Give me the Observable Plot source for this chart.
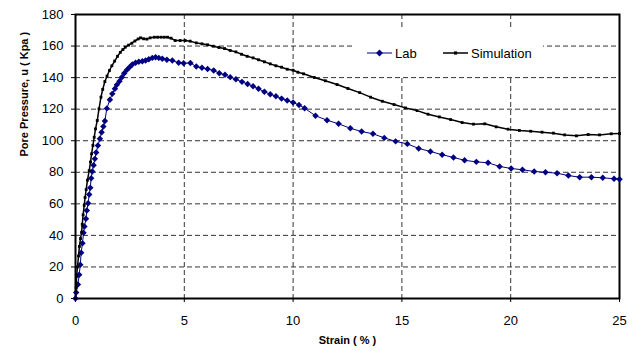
<!DOCTYPE html>
<html>
<head>
<meta charset="utf-8">
<script src="https://cdn.jsdelivr.net/npm/d3@7"></script>
<script src="https://cdn.jsdelivr.net/npm/@observablehq/plot@0.6"></script>
<style>
  html, body { margin: 0; padding: 0; background: white; }
  #wrap { position: relative; width: 638px; height: 351px; font-family: "Liberation Sans", Arial, sans-serif; }
  #legend { position: absolute; left: 353px; top: 27px; width: 190px; height: 48px; background: white; }
</style>
</head>
<body>
<div id="wrap"><div id="legend"></div></div>
<script>
const xTicks = [0, 5, 10, 15, 20, 25];
const yTicks = [0, 20, 40, 60, 80, 100, 120, 140, 160, 180];
const xTitle = "Strain ( % )";
const yTitle = "Pore Pressure, u ( Kpa )";
const seriesNames = ["Lab", "Simulation"];

// Lab: [strain %, pore pressure kPa]
const labData = [
  [0,0],[0.03,3.8],[0.11,8.9],[0.17,15],[0.22,21.4],[0.26,29],[0.32,35],[0.37,41.6],[0.41,45.6],
  [0.48,50.5],[0.52,55.8],[0.58,60.4],[0.63,65.9],[0.68,70.2],[0.72,76.2],[0.77,80.5],[0.83,84.5],
  [0.89,88.5],[0.95,92.5],[1.03,97],[1.12,101.2],[1.20,105.4],[1.28,109],[1.35,112.5],[1.44,120.5],
  [1.58,126],[1.69,129.7],[1.81,132.9],[1.90,135.4],[2.02,137.7],[2.13,140.2],[2.24,142.8],
  [2.36,144.9],[2.48,146.6],[2.61,148.3],[2.76,149.4],[2.91,150.0],[3.07,150.4],[3.22,150.8],[3.37,151.6],
  [3.53,152.5],[3.68,152.9],[3.83,152.5],[3.99,151.9],[4.20,151.3],[4.45,150.8],[4.74,149.4],[4.97,149.1],
  [5.28,149.3],[5.55,147.0],[5.81,146.2],[6.07,145.5],[6.35,144.5],[6.61,142.8],[6.87,141.8],[7.11,140.3],
  [7.37,139.0],[7.65,137.3],[7.91,136.0],[8.16,134.5],[8.41,132.9],[8.68,131.0],[8.95,129.5],[9.21,128.2],
  [9.47,126.7],[9.73,125.5],[10.0,124.2],[10.27,122.7],[10.53,120.6],[11.03,115.8],[11.56,113.0],[12.09,110.7],
  [12.63,107.9],[13.15,105.8],[13.67,104.4],[14.19,101.8],[14.71,99.6],[15.25,98.0],[15.77,95.1],[16.31,93.2],
  [16.85,91.1],[17.37,89.4],[17.88,87.6],[18.42,86.6],[18.96,86.0],[19.49,83.7],[20.02,82.4],[20.54,81.6],
  [21.08,80.5],[21.60,80.0],[22.13,79.4],[22.65,77.9],[23.17,76.9],[23.71,76.9],[24.23,76.5],[24.75,75.9],[25,75.6]
];

// Simulation: [strain %, pore pressure kPa]
const simData = [
  [0,0],[0.03,7],[0.05,14],[0.09,20],[0.14,27],[0.18,33],[0.23,38],[0.28,42],[0.31,47],[0.35,53],
  [0.40,59],[0.44,64],[0.49,69],[0.55,75],[0.63,81],[0.69,86.5],[0.74,91.7],[0.80,97],[0.86,102.2],
  [0.92,107.5],[1.0,112.8],[1.08,120.2],[1.17,127.6],[1.25,132.5],[1.35,137.5],[1.45,141],[1.56,144.5],
  [1.67,147.5],[1.80,150.5],[1.93,153.5],[2.06,156],[2.18,157.8],[2.29,159.3],[2.44,160.6],[2.59,161.8],
  [2.73,163.2],[2.88,164.5],[2.99,165.2],[3.13,164.6],[3.28,164.4],[3.43,165.2],[3.62,165.6],
  [3.77,165.6],[3.93,165.6],[4.08,165.6],[4.23,165.6],[4.39,165.0],[4.58,163.5],[4.81,163.5],[5.04,163.5],
  [5.27,163.1],[5.55,162.0],[5.81,161.4],[6.07,160.8],[6.33,159.9],[6.59,159.1],[6.85,158.4],[7.11,157.2],
  [7.37,156.3],[7.63,154.8],[7.89,153.5],[8.16,152.5],[8.41,151.3],[8.68,150.0],[8.95,148.7],[9.21,147.5],
  [9.47,146.6],[9.73,145.3],[10.0,144.7],[10.22,143.4],[10.48,142.4],[10.97,140.1],[11.48,138.0],[12.02,135.6],
  [12.52,133.1],[13.06,130.5],[13.56,127.6],[14.10,125.0],[14.64,122.9],[15.16,120.8],[15.70,119.1],[16.20,116.8],
  [16.72,115.1],[17.24,113.4],[17.77,111.5],[18.29,110.5],[18.81,110.7],[19.33,108.8],[19.88,107.3],[20.40,106.5],
  [20.92,106.0],[21.44,105.4],[21.96,104.8],[22.48,103.7],[23.02,103.1],[23.56,103.9],[24.08,103.7],[24.62,104.4],[25,104.5]
];

const labColor = "#000080";
const simColor = "#000000";
const lab = labData.map(([x, y]) => ({x, y}));
const sim = simData.map(([x, y]) => ({x, y}));
const gridX = xTicks.filter(d => d > 0 && d < 25);
const gridY = yTicks.filter(d => d > 0 && d < 180);

const chart = Plot.plot({
  width: 638,
  height: 351,
  marginLeft: 75,
  marginRight: 19,
  marginTop: 14,
  marginBottom: 53,
  style: {fontFamily: "'Liberation Sans', Arial, sans-serif", fontSize: "13px", background: "white", color: "black", overflow: "visible"},
  x: {domain: [0, 25], ticks: xTicks, tickSize: 4, tickPadding: 13, label: null},
  y: {domain: [0, 180], ticks: yTicks, tickSize: 4, tickPadding: 8, label: null},
  marks: [
    Plot.ruleY(gridY, {stroke: "#333", strokeWidth: 1, strokeDasharray: "5,3"}),
    Plot.ruleX(gridX, {stroke: "#333", strokeWidth: 1, strokeDasharray: "5,3"}),
    Plot.frame({stroke: "black", strokeWidth: 2}),
    Plot.line(lab, {x: "x", y: "y", stroke: labColor, strokeWidth: 1}),
    Plot.dot(lab, {x: "x", y: "y", symbol: "diamond2", r: 2.9, fill: labColor, stroke: "none"}),
    Plot.line(sim, {x: "x", y: "y", stroke: simColor, strokeWidth: 1.5}),
    Plot.dot(sim, {x: "x", y: "y", symbol: "square", r: 1.6, fill: simColor, stroke: "none"}),
    Plot.text([xTitle], {text: d => d, frameAnchor: "bottom", dy: 45, fontWeight: "bold", fontSize: 11}),
    Plot.text([yTitle], {text: d => d, frameAnchor: "left", dx: -51, rotate: -90, fontWeight: "bold", fontSize: 11})
  ]
});
const wrap = document.getElementById("wrap");
wrap.insertBefore(chart, wrap.firstChild);

// Legend
const lg = d3.select("#legend").append("svg").attr("width", 190).attr("height", 48)
  .style("font-family", "'Liberation Sans', Arial, sans-serif").style("font-size", "13px");
const items = [
  {name: seriesNames[0], color: labColor, x0: 14, sym: d3.symbolDiamond2, size: 30, w: 1},
  {name: seriesNames[1], color: simColor, x0: 90, sym: d3.symbolSquare, size: 10, w: 1.5}
];
items.forEach(it => {
  lg.append("line").attr("x1", it.x0).attr("x2", it.x0 + 25).attr("y1", 26).attr("y2", 26)
    .attr("stroke", it.color).attr("stroke-width", it.w);
  lg.append("path").attr("d", d3.symbol(it.sym, it.size)()).attr("transform", `translate(${it.x0 + 12.5},26)`)
    .attr("fill", it.color);
  lg.append("text").attr("x", it.x0 + 28).attr("y", 26).attr("dy", "0.35em").attr("fill", "black").text(it.name);
});
</script>
</body>
</html>
